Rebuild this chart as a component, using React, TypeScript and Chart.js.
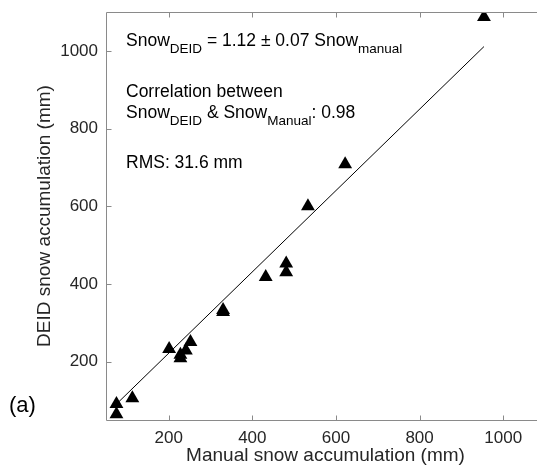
import React, { useEffect, useRef } from "react";
import { Chart, registerables } from "chart.js";

Chart.register(...registerables);

const FONT = '"Liberation Sans", Arial, Helvetica, sans-serif';
const TEXT_COLOR = "#262626";
const AXIS_COLOR = "#8a8a8a";

// Data
const manualSnow = [954, 622, 533, 481, 481, 432, 330, 330, 201, 252, 241, 228, 228, 113, 75, 75];
const deidSnow = [1087, 708, 600, 453, 430, 418, 333, 328, 233, 251, 229, 218, 209, 106, 91, 65];
const fitManual = [75, 954];
const fitDeid = [91, 1011];
const xTickValues = [200, 400, 600, 800, 1000];
const yTickValues = [200, 400, 600, 800, 1000];
const xRange = [50, 1100];
const yRange = [50, 1100];

const xTitle = "Manual snow accumulation (mm)";
const yTitle = "DEID snow accumulation (mm)";
const panelLabel = "(a)";

type Seg = { t: string; sub?: boolean };
const annotationLines: Seg[][] = [
  [{ t: "Snow" }, { t: "DEID", sub: true }, { t: " = 1.12 \u00B1 0.07 Snow" }, { t: "manual", sub: true }],
  [{ t: "Correlation between" }],
  [{ t: "Snow" }, { t: "DEID", sub: true }, { t: " & Snow" }, { t: "Manual", sub: true }, { t: ": 0.98" }],
  [{ t: "RMS: 31.6 mm" }],
];
const annotationBaselines = [34, 85, 106, 156]; // offsets from chart top

const zeroPad = (s: any) => {
  s.paddingLeft = 0;
  s.paddingRight = 0;
  s.paddingTop = 0;
  s.paddingBottom = 0;
};

export default function App() {
  const ref = useRef<HTMLCanvasElement>(null);

  useEffect(() => {
    const canvas = ref.current!;
    const deco = {
      id: "deco",
      afterDraw(chart: any) {
        const { ctx, chartArea: a, scales } = chart;
        const xs = scales.x;
        const ys = scales.y;
        ctx.save();
        // axes lines
        ctx.strokeStyle = AXIS_COLOR;
        ctx.lineWidth = 1;
        ctx.beginPath();
        const L = Math.round(a.left) + 0.5;
        const B = Math.round(a.bottom) + 0.5;
        const T = Math.round(a.top) + 0.5;
        const R = Math.round(a.right) + 0.5;
        ctx.moveTo(L, T);
        ctx.lineTo(L, B);
        ctx.lineTo(R, B);
        ctx.moveTo(L, T);
        ctx.lineTo(R, T);
        ctx.moveTo(R, T);
        ctx.lineTo(R, B);
        const tl = 5;
        xTickValues.forEach((v) => {
          const px = Math.round(xs.getPixelForValue(v)) + 0.5;
          ctx.moveTo(px, B);
          ctx.lineTo(px, B - tl);
          ctx.moveTo(px, T);
          ctx.lineTo(px, T + tl);
        });
        yTickValues.forEach((v) => {
          const py = Math.round(ys.getPixelForValue(v)) + 0.5;
          ctx.moveTo(L, py);
          ctx.lineTo(L + tl, py);
          ctx.moveTo(R, py);
          ctx.lineTo(R - tl, py);
        });
        ctx.stroke();

        // annotation text
        ctx.fillStyle = "#000";
        ctx.textBaseline = "alphabetic";
        ctx.textAlign = "left";
        annotationLines.forEach((line, i) => {
          let x = a.left + 20;
          const y = a.top + annotationBaselines[i];
          line.forEach((s) => {
            ctx.font = s.sub ? `13.5px ${FONT}` : `17.5px ${FONT}`;
            ctx.fillText(s.t, x, s.sub ? y + 7 : y);
            x += ctx.measureText(s.t).width;
          });
        });

        // axis titles
        ctx.fillStyle = TEXT_COLOR;
        ctx.font = `19px ${FONT}`;
        ctx.textAlign = "center";
        ctx.fillText(xTitle, (a.left + a.right) / 2, a.bottom + 41);
        ctx.save();
        ctx.translate(50, (a.top + a.bottom) / 2);
        ctx.rotate(-Math.PI / 2);
        ctx.fillText(yTitle, 0, 0);
        ctx.restore();

        // panel label
        ctx.fillStyle = "#000";
        ctx.font = `22px ${FONT}`;
        ctx.textAlign = "left";
        ctx.fillText(panelLabel, 9, 412);
        ctx.restore();
      },
    };

    const chart = new Chart(canvas, {
      type: "scatter",
      data: {
        datasets: [
          {
            data: manualSnow.map((x, i) => ({ x, y: deidSnow[i] })),
            pointStyle: "triangle",
            pointRadius: 8,
            pointBackgroundColor: "#000",
            pointBorderColor: "#000",
            pointBorderWidth: 0,
            showLine: false,
          },
          {
            type: "line",
            data: fitManual.map((x, i) => ({ x, y: fitDeid[i] })),
            borderColor: "#000",
            borderWidth: 1,
            pointRadius: 0,
            showLine: true,
            fill: false,
          },
        ],
      } as any,
      options: {
        responsive: false,
        devicePixelRatio: 1,
        animation: false,
        layout: { padding: { left: 0, top: 12, right: 15, bottom: 0 } },
        plugins: { legend: { display: false }, tooltip: { enabled: false } },
        scales: {
          x: {
            type: "linear",
            min: xRange[0],
            max: xRange[1],
            afterBuildTicks: (s: any) => {
              s.ticks = xTickValues.map((v) => ({ value: v }));
            },
            afterFit: (s: any) => {
              s.height = 50;
              zeroPad(s);
            },
            grid: { display: false, drawTicks: false },
            border: { display: false },
            ticks: {
              color: TEXT_COLOR,
              font: { family: FONT, size: 17 },
              padding: 8,
              callback: (v: any) => String(v),
            },
          },
          y: {
            type: "linear",
            min: yRange[0],
            max: yRange[1],
            afterBuildTicks: (s: any) => {
              s.ticks = yTickValues.map((v) => ({ value: v }));
            },
            afterFit: (s: any) => {
              s.width = 106;
              zeroPad(s);
            },
            grid: { display: false, drawTicks: false },
            border: { display: false },
            ticks: {
              color: TEXT_COLOR,
              font: { family: FONT, size: 17 },
              padding: 8,
              callback: (v: any) => String(v),
            },
          },
        },
      } as any,
      plugins: [deco],
    });
    return () => chart.destroy();
  }, []);

  return (
    <div
      style={{
        position: "fixed",
        left: 0,
        top: 0,
        width: 537,
        height: 470,
        overflow: "hidden",
        background: "#fff",
      }}
    >
      <canvas ref={ref} width={560} height={470} style={{ width: 560, height: 470, display: "block" }} />
    </div>
  );
}
